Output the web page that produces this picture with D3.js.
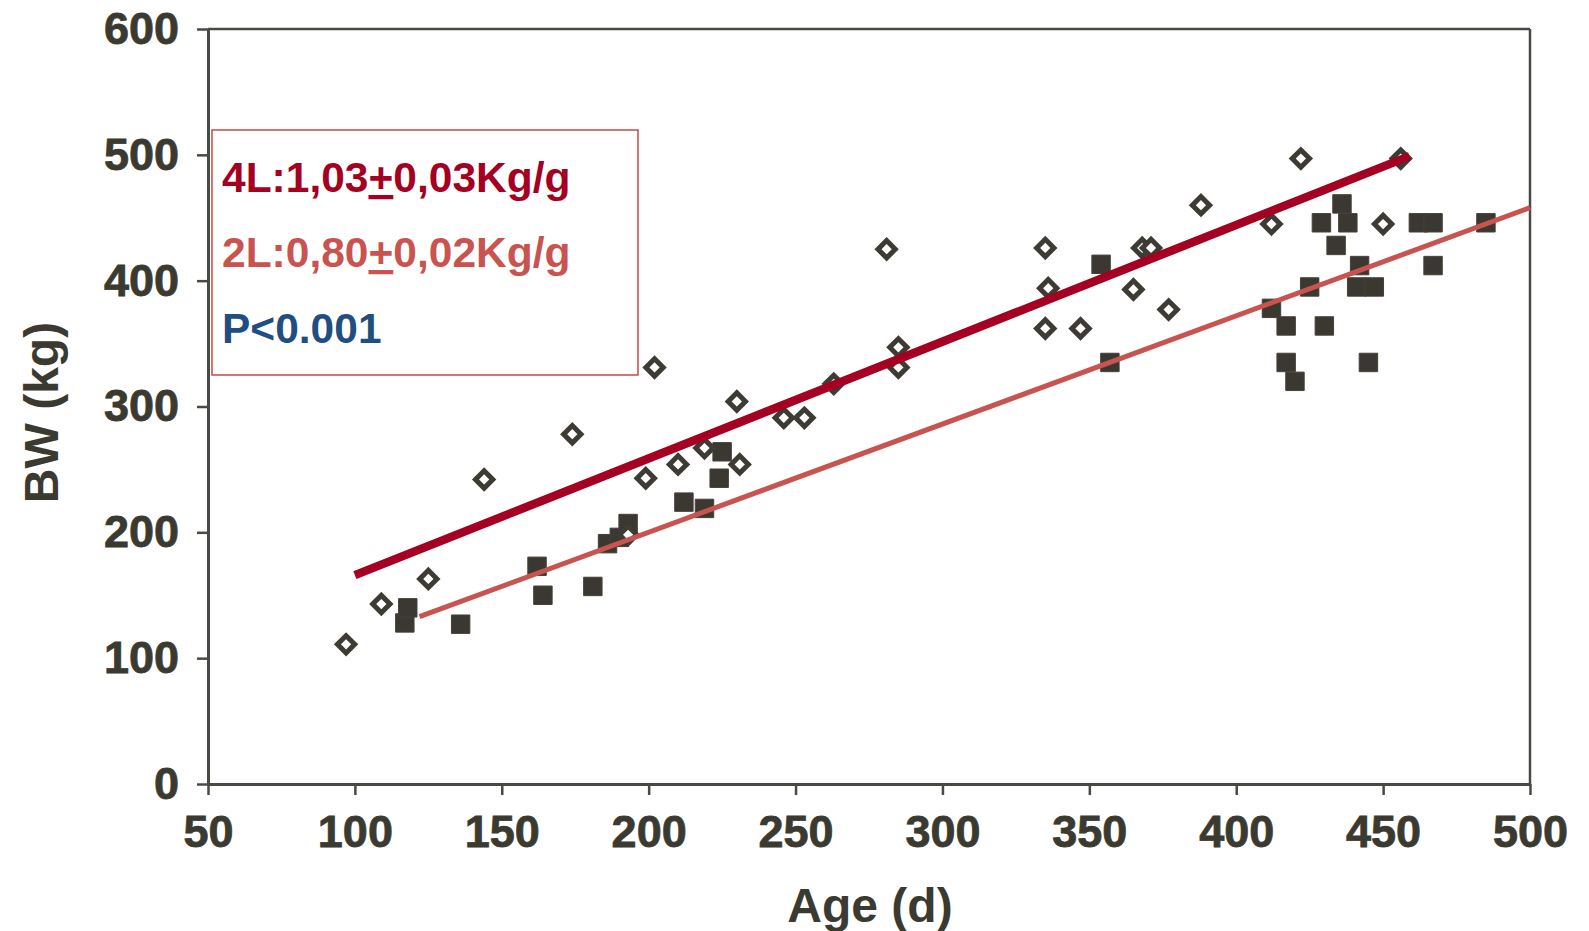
<!DOCTYPE html>
<html>
<head>
<meta charset="utf-8">
<script src="https://cdn.jsdelivr.net/npm/d3@7"></script>
<style>
  body { margin: 0; background: #fff; }
  svg { display: block; }
</style>
</head>
<body>
<div id="chart"></div>
<script>
// axis ticks
var xTicks = [50, 100, 150, 200, 250, 300, 350, 400, 450, 500];
var yTicks = [0, 100, 200, 300, 400, 500, 600];

// 4L animals (open diamonds)
var age4L = [97, 109, 125, 144, 174, 193, 199, 202, 210, 219, 230, 231, 246, 253, 263,
             281, 285, 285, 335, 336, 335, 347, 365, 368, 371, 377, 388, 412, 422, 450, 456];
var bw4L  = [111, 143, 163, 242, 278, 198, 243, 331, 254, 267, 304, 254, 291, 291, 318,
             425, 347, 331, 426, 394, 362, 362, 393, 426, 426, 377, 460, 445, 497, 445, 497];

// 2L animals (filled squares)
var age2L = [117, 118, 136, 162, 164, 181, 186, 190, 193, 212, 219, 224, 225, 354, 357,
             412, 417, 417, 420, 425, 429, 430, 434, 436, 438, 441, 442, 445, 447, 462, 467, 467, 485];
var bw2L  = [128, 140, 127, 173, 150, 157, 191, 196, 207, 224, 219, 243, 264, 413, 335,
             378, 364, 335, 320, 395, 446, 364, 428, 461, 446, 395, 412, 335, 395, 446, 446, 412, 446];

// regression lines (start / end)
var fit4LAge = [100, 459], fit4LBw = [166, 499];
var fit2LAge = [122, 500], fit2LBw = [133, 458];

// legend texts
var legendA = ["4L:1,03", "+", "0,03Kg/g"];
var legendB = ["2L:0,80", "+", "0,02Kg/g"];
var legendP = "P<0.001";

var width = 1589, height = 931;
var margin = {top: 29, right: 59, bottom: 147, left: 208};
var inkColor = "#3b3a30";

var svg = d3.select("#chart").append("svg")
    .attr("width", width).attr("height", height);

var x = d3.scaleLinear().domain([50, 500]).range([margin.left, width - margin.right]);
var y = d3.scaleLinear().domain([0, 600]).range([height - margin.bottom, margin.top]);

var font = "'Liberation Sans', Arial, sans-serif";

// frame top / right
svg.append("line")
    .attr("x1", x(50)).attr("x2", x(500)).attr("y1", y(600)).attr("y2", y(600))
    .attr("stroke", "#4a4a44").attr("stroke-width", 2.5);
svg.append("line")
    .attr("x1", x(500)).attr("x2", x(500)).attr("y1", y(600)).attr("y2", y(0))
    .attr("stroke", "#4a4a44").attr("stroke-width", 2.5);

// axes
var xAxis = svg.append("g")
    .attr("transform", "translate(0," + y(0) + ")")
    .call(d3.axisBottom(x).tickValues(xTicks).tickSize(11).tickPadding(20).tickSizeOuter(0));
var yAxis = svg.append("g")
    .attr("transform", "translate(" + x(50) + ",0)")
    .call(d3.axisLeft(y).tickValues(yTicks).tickSize(11).tickPadding(18).tickSizeOuter(0));

[xAxis, yAxis].forEach(function (g) {
    g.select(".domain").attr("stroke", "#4a4a44").attr("stroke-width", 3);
    g.selectAll(".tick line").attr("stroke", "#4a4a44").attr("stroke-width", 2.5);
    g.selectAll(".tick text")
        .attr("fill", inkColor)
        .attr("stroke", inkColor).attr("stroke-width", 0.8)
        .style("font-family", font)
        .style("font-weight", "bold")
        .style("font-size", "45px");
});

// axis titles
svg.append("text")
    .attr("x", (x(50) + x(500)) / 2 + 1).attr("y", 922)
    .attr("text-anchor", "middle")
    .attr("fill", inkColor)
    .style("font-family", font).style("font-weight", "bold").style("font-size", "48px")
    .text("Age (d)");
svg.append("text")
    .attr("transform", "translate(58," + ((y(0) + y(600)) / 2 + 6) + ") rotate(-90)")
    .attr("text-anchor", "middle")
    .attr("fill", inkColor)
    .style("font-family", font).style("font-weight", "bold").style("font-size", "48px")
    .text("BW (kg)");

// markers
var diamond = d3.symbol(d3.symbolSquare, 150);
var square = d3.symbol(d3.symbolSquare, 340);

svg.append("g").selectAll("path").data(d3.range(age2L.length)).enter().append("path")
    .attr("d", square)
    .attr("transform", function (i) { return "translate(" + x(age2L[i]) + "," + y(bw2L[i]) + ")"; })
    .attr("fill", "#3b3731")
    .attr("stroke", "#45423a").attr("stroke-width", 1);

svg.append("g").selectAll("path").data(d3.range(age4L.length)).enter().append("path")
    .attr("d", diamond)
    .attr("transform", function (i) { return "translate(" + x(age4L[i]) + "," + y(bw4L[i]) + ") rotate(45)"; })
    .attr("fill", "#fff")
    .attr("stroke", "#3d3b33").attr("stroke-width", 5);

// regression lines
svg.append("line")
    .attr("x1", x(fit2LAge[0])).attr("y1", y(fit2LBw[0]))
    .attr("x2", x(fit2LAge[1])).attr("y2", y(fit2LBw[1]))
    .attr("stroke", "#C9534F").attr("stroke-width", 5);
svg.append("line")
    .attr("x1", x(fit4LAge[0])).attr("y1", y(fit4LBw[0]))
    .attr("x2", x(fit4LAge[1])).attr("y2", y(fit4LBw[1]))
    .attr("stroke", "#A50021").attr("stroke-width", 8.5);

// legend box
var leg = svg.append("g");
leg.append("rect")
    .attr("x", 212).attr("y", 130).attr("width", 426).attr("height", 245)
    .attr("fill", "#fff").attr("stroke", "#C9534F").attr("stroke-width", 1.6);

function legendLine(parts, yPos, color) {
    var t = leg.append("text")
        .attr("x", 222).attr("y", yPos)
        .attr("fill", color)
        .style("font-family", font).style("font-weight", "bold").style("font-size", "42.5px");
    t.append("tspan").text(parts[0]);
    t.append("tspan").style("text-decoration", "underline").text(parts[1]);
    t.append("tspan").text(parts[2]);
}
legendLine(legendA, 192, "#A50021");
legendLine(legendB, 267, "#C9534F");
leg.append("text")
    .attr("x", 222).attr("y", 343)
    .attr("fill", "#1F4E80")
    .style("font-family", font).style("font-weight", "bold").style("font-size", "42.5px")
    .text(legendP);
</script>
</body>
</html>
